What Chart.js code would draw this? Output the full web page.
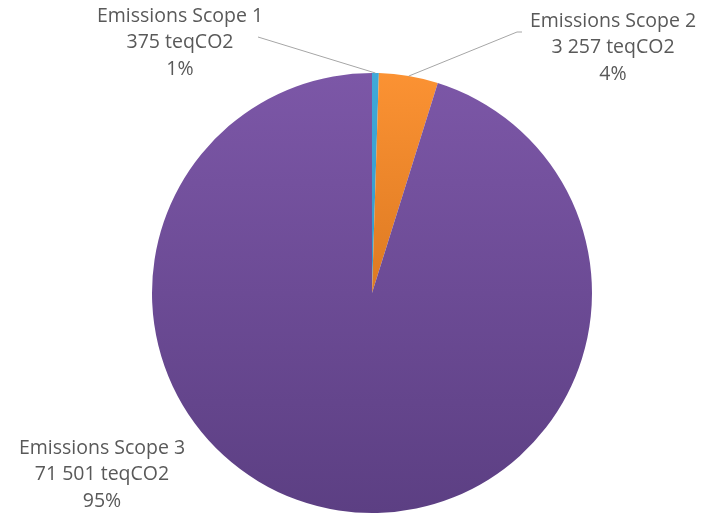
<!DOCTYPE html>
<html lang="fr">
<head>
    <meta charset="UTF-8">
    <title>Emissions par scope</title>
    <script src="https://cdn.jsdelivr.net/npm/chart.js"></script>
    <style>
        html, body {
            margin: 0;
            padding: 0;
            background: #ffffff;
        }
        .chart-container {
            position: relative;
            width: 706px;
            height: 517px;
        }
    </style>
</head>
<body>
    <div class="chart-container">
        <canvas id="scopeChart"></canvas>
    </div>

    <script>
        const scopeLabels = ['Emissions Scope 1', 'Emissions Scope 2', 'Emissions Scope 3'];
        const scopeValues = [375, 3257, 71501];
        const valueTexts = ['375 teqCO2', '3 257 teqCO2', '71 501 teqCO2'];
        const percentTexts = ['1%', '4%', '95%'];

        // couleurs en dégradé vertical comme dans Excel
        function sliceColor(ctx) {
            const chart = ctx.chart;
            const area = chart.chartArea;
            if (!area) return '#7a55a5';
            const g = chart.ctx.createLinearGradient(0, area.top, 0, area.bottom);
            if (ctx.dataIndex === 0) {
                g.addColorStop(0, '#3fa9d9');
                g.addColorStop(1, '#2a86b8');
            } else if (ctx.dataIndex === 1) {
                g.addColorStop(0, '#fb9233');
                g.addColorStop(0.5, '#dd7a22');
                g.addColorStop(1, '#c96a18');
            } else {
                g.addColorStop(0, '#7c57a7');
                g.addColorStop(1, '#5c3f83');
            }
            return g;
        }

        // étiquettes avec lignes de rappel
        const labelPlugin = {
            id: 'scopeLabels',
            afterDraw(chart) {
                const c = chart.ctx;
                const arcs = chart.getDatasetMeta(0).data;
                const spots = [
                    { x: 180, y: 16, lineTo: [258, 37] },
                    { x: 613, y: 21, lineTo: [517, 32], lineEnd: [522, 32] },
                    { x: 102, y: 448, lineTo: null }
                ];
                c.save();
                c.strokeStyle = '#a6a6a6';
                c.lineWidth = 1;
                arcs.forEach((arc, i) => {
                    const s = spots[i];
                    if (s.lineTo) {
                        const p = arc.getProps(['x', 'y', 'startAngle', 'endAngle', 'outerRadius'], true);
                        const mid = (p.startAngle + p.endAngle) / 2;
                        const ex = p.x + Math.cos(mid) * p.outerRadius;
                        const ey = p.y + Math.sin(mid) * p.outerRadius;
                        c.beginPath();
                        c.moveTo(ex, ey);
                        c.lineTo(s.lineTo[0], s.lineTo[1]);
                        if (s.lineEnd) c.lineTo(s.lineEnd[0], s.lineEnd[1]);
                        c.stroke();
                    }
                    c.fillStyle = '#595959';
                    c.font = '19.5px "Open Sans", sans-serif';
                    c.textAlign = 'center';
                    c.textBaseline = 'middle';
                    c.fillText(scopeLabels[i], s.x, s.y);
                    c.fillText(valueTexts[i], s.x, s.y + 26.5);
                    c.fillText(percentTexts[i], s.x, s.y + 53);
                });
                c.restore();
            }
        };

        function createChart() {
            const ctx = document.getElementById('scopeChart').getContext('2d');
            new Chart(ctx, {
                type: 'pie',
                data: {
                    labels: scopeLabels,
                    datasets: [{
                        data: scopeValues,
                        backgroundColor: sliceColor,
                        borderWidth: 0
                    }]
                },
                options: {
                    responsive: true,
                    maintainAspectRatio: false,
                    animation: false,
                    layout: {
                        padding: { left: 152, right: 114, top: 73, bottom: 4 }
                    },
                    plugins: {
                        legend: { display: false },
                        tooltip: { enabled: false }
                    }
                },
                plugins: [labelPlugin]
            });
        }

        document.addEventListener('DOMContentLoaded', createChart);
    </script>
</body>
</html>
